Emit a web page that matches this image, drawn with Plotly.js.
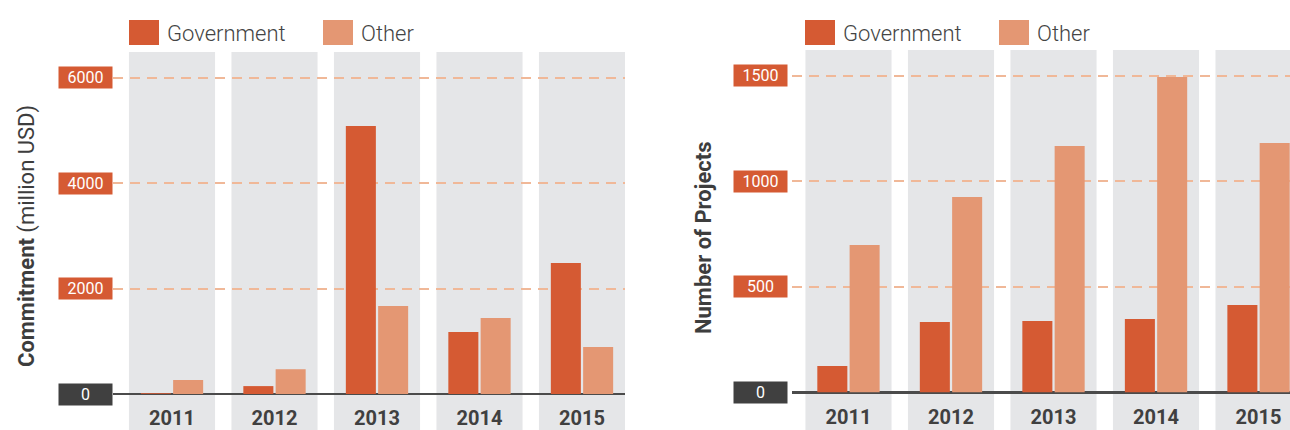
<!DOCTYPE html>
<html>
<head>
<meta charset="utf-8">
<script src="https://cdn.plot.ly/plotly-3.0.1.min.js"></script>
<style>
  body { margin: 0; background: #fff; }
  #plot { width: 1290px; height: 430px; }
</style>
</head>
<body>
<div id="plot"></div>
<script>
// Values
let years = ["2011", "2012", "2013", "2014", "2015"];
let commitGov = [15, 150, 5085, 1176, 2486];
let commitOther = [266, 470, 1670, 1442, 892];
let projectsGov = [125, 334, 338, 348, 414];
let projectsOther = [698, 925, 1167, 1493, 1181];
let commitTicks = [0, 2000, 4000, 6000];
let projectTicks = [0, 500, 1000, 1500];

// Colours and fonts
let darkOrange = "#d55a33";
let lightOrange = "#e49773";
let colGray = "#e5e6e8";
let textGray = "#404040";
let font = "Roboto, 'Liberation Sans', sans-serif";

// helpers to turn pixel positions of the 1290x430 page into paper coords
const W = 1290, H = 430;
const px = v => v / W;
const py = v => 1 - v / H;

// Traces
let trace1 = { x: years, y: commitGov, name: "Government", type: "bar",
    marker: { color: darkOrange }, xaxis: "x", yaxis: "y" };
let trace2 = { x: years, y: commitOther, name: "Other", type: "bar",
    marker: { color: lightOrange }, xaxis: "x", yaxis: "y" };
let trace3 = { x: years, y: projectsGov, name: "Government", type: "bar",
    marker: { color: darkOrange }, xaxis: "x2", yaxis: "y2" };
let trace4 = { x: years, y: projectsOther, name: "Other", type: "bar",
    marker: { color: lightOrange }, xaxis: "x2", yaxis: "y2" };

let data = [trace1, trace2, trace3, trace4];

// x axis style shared by both panels
function xStyle(domain, range, anchor) {
    return {
        domain: domain, range: range, type: "category", anchor: anchor,
        showgrid: false, zeroline: false, showline: false, ticks: "",
        ticklabelstandoff: 10,
        tickfont: { family: font, size: 20, color: textGray, weight: "bold" },
        fixedrange: true
    };
}

function yStyle(domain, range, ticks, anchor) {
    return {
        domain: domain, range: range, anchor: anchor,
        tickvals: ticks, showticklabels: false,
        showgrid: true, gridcolor: "#f0b898", gridwidth: 2, griddash: "10px,7px",
        zeroline: true, zerolinecolor: "#4b4b4b", zerolinewidth: 2.5,
        showline: false, ticks: "", fixedrange: true
    };
}

let shapes = [];
let annotations = [];

// grey column behind each year, both panels
years.forEach((yr, i) => {
    shapes.push({ type: "rect", xref: "x", yref: "paper", x0: i - 0.42, x1: i + 0.42,
        y0: 0, y1: py(52), fillcolor: colGray, line: { width: 0 }, layer: "below" });
    shapes.push({ type: "rect", xref: "x2", yref: "paper", x0: i - 0.42, x1: i + 0.42,
        y0: 0, y1: py(50), fillcolor: colGray, line: { width: 0 }, layer: "below" });
});

// boxed y tick labels
function tickBoxes(ticks, yref, right) {
    ticks.forEach(v => {
        annotations.push({
            xref: "paper", x: px(right), xanchor: "right",
            yref: yref, y: v, yanchor: "middle",
            text: String(v), showarrow: false,
            bgcolor: v === 0 ? "#404040" : darkOrange,
            width: 53, height: 21, borderpad: 0, align: "center",
            font: { family: font, size: 16, color: "#ffffff" }
        });
    });
}
tickBoxes(commitTicks, "y", 113);
tickBoxes(projectTicks, "y2", 788);

// custom legend (big squares) for each panel
function legend(offset) {
    let items = [["Government", darkOrange, 129], ["Other", lightOrange, 323]];
    items.forEach(it => {
        let x0 = it[2] + offset;
        shapes.push({ type: "rect", xref: "paper", yref: "paper",
            x0: px(x0), x1: px(x0 + 30), y0: py(45), y1: py(20),
            fillcolor: it[1], line: { width: 0 } });
        annotations.push({ xref: "paper", yref: "paper", x: px(x0 + 36), y: py(33),
            xanchor: "left", yanchor: "middle", showarrow: false, text: it[0],
            font: { family: font, size: 22, color: "#444444", weight: 300 } });
    });
}
legend(0);
legend(676);

// y axis titles
annotations.push({ xref: "paper", yref: "paper", x: px(27), y: py(236), textangle: -90,
    xanchor: "center", yanchor: "middle",
    showarrow: false, text: "<b>Commitment</b> (million USD)",
    font: { family: font, size: 22, color: "#3d3d3d" } });
annotations.push({ xref: "paper", yref: "paper", x: px(703), y: py(238), textangle: -90,
    xanchor: "center", yanchor: "middle",
    showarrow: false, text: "<b>Number of Projects</b>",
    font: { family: font, size: 22, color: "#3d3d3d" } });

let layout = {
    width: W, height: H,
    margin: { l: 0, r: 0, t: 0, b: 0 },
    paper_bgcolor: "#ffffff", plot_bgcolor: "rgba(0,0,0,0)",
    showlegend: false,
    barmode: "group", bargap: 0.37, bargroupgap: 0.07,
    xaxis: xStyle([px(113), px(625)], [-0.5756, 4.4195], "y"),
    yaxis: yStyle([py(394), py(52)], [0, 6490], commitTicks, "x"),
    xaxis2: xStyle([px(792), 1], [-0.551, 4.307], "y2"),
    yaxis2: yStyle([py(392.5), py(50)], [0, 1621], projectTicks, "x2"),
    shapes: shapes,
    annotations: annotations
};

Plotly.newPlot("plot", data, layout, { displayModeBar: false, staticPlot: true });
</script>
</body>
</html>
